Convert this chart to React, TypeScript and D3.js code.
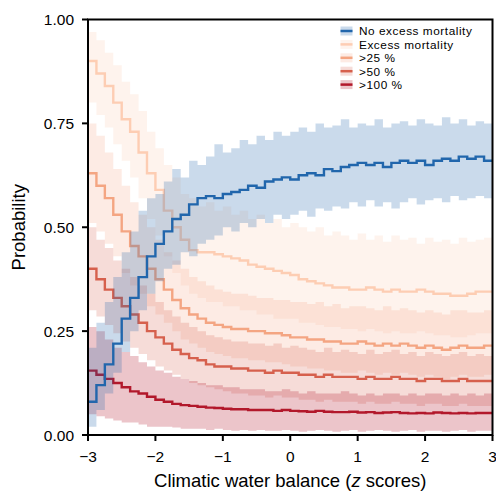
import React from "react";
import * as d3 from "d3";

// x bins (start of each bin), z scores from -3 to 3, width 0.125
const BIN_WIDTH = 0.125;
const BIN_STARTS = d3.range(-3, 3 - 1e-9, BIN_WIDTH);

const X_TICKS = [-3, -2, -1, 0, 1, 2, 3];
const Y_TICKS = [0, 0.25, 0.5, 0.75, 1];

const LABELS = ["No excess mortality", "Excess mortality", ">25 %", ">50 %", ">100 %"];

// No excess mortality
const noExcessMid = [0.08, 0.12, 0.17, 0.22, 0.28, 0.33, 0.38, 0.43, 0.46, 0.49, 0.52, 0.53, 0.555, 0.57, 0.575, 0.57, 0.58, 0.585, 0.59, 0.6, 0.595, 0.61, 0.615, 0.62, 0.615, 0.625, 0.63, 0.625, 0.64, 0.635, 0.645, 0.65, 0.655, 0.65, 0.655, 0.645, 0.655, 0.66, 0.655, 0.66, 0.65, 0.66, 0.665, 0.66, 0.67, 0.665, 0.67, 0.66];
const noExcessHi = [0.21, 0.27, 0.32, 0.38, 0.44, 0.49, 0.54, 0.57, 0.58, 0.61, 0.64, 0.62, 0.66, 0.65, 0.67, 0.7, 0.68, 0.69, 0.71, 0.7, 0.72, 0.71, 0.73, 0.72, 0.73, 0.74, 0.73, 0.75, 0.74, 0.745, 0.76, 0.74, 0.75, 0.745, 0.76, 0.74, 0.75, 0.755, 0.745, 0.76, 0.75, 0.745, 0.765, 0.75, 0.76, 0.745, 0.755, 0.75];
const noExcessLo = [0.02, 0.06, 0.1, 0.15, 0.2, 0.25, 0.3, 0.34, 0.37, 0.4, 0.41, 0.44, 0.43, 0.46, 0.47, 0.48, 0.5, 0.49, 0.51, 0.5, 0.52, 0.51, 0.53, 0.52, 0.53, 0.54, 0.525, 0.545, 0.54, 0.55, 0.545, 0.56, 0.55, 0.565, 0.55, 0.56, 0.545, 0.56, 0.57, 0.555, 0.565, 0.57, 0.56, 0.575, 0.565, 0.57, 0.575, 0.57];

// Excess mortality
const excessMid = [0.9, 0.87, 0.84, 0.8, 0.76, 0.73, 0.68, 0.63, 0.59, 0.54, 0.5, 0.47, 0.445, 0.44, 0.44, 0.435, 0.43, 0.425, 0.42, 0.41, 0.405, 0.4, 0.395, 0.39, 0.385, 0.375, 0.37, 0.365, 0.36, 0.355, 0.355, 0.35, 0.35, 0.355, 0.35, 0.345, 0.35, 0.345, 0.345, 0.35, 0.345, 0.34, 0.34, 0.335, 0.335, 0.34, 0.345, 0.345];
const excessHi = [0.97, 0.95, 0.92, 0.89, 0.85, 0.82, 0.78, 0.73, 0.69, 0.65, 0.62, 0.58, 0.57, 0.55, 0.56, 0.54, 0.55, 0.53, 0.54, 0.52, 0.53, 0.51, 0.52, 0.5, 0.51, 0.5, 0.49, 0.5, 0.48, 0.49, 0.48, 0.47, 0.485, 0.47, 0.48, 0.465, 0.48, 0.47, 0.475, 0.46, 0.475, 0.465, 0.47, 0.46, 0.475, 0.465, 0.47, 0.475];
const excessLo = [0.8, 0.77, 0.74, 0.7, 0.66, 0.62, 0.57, 0.52, 0.48, 0.43, 0.39, 0.36, 0.34, 0.33, 0.32, 0.32, 0.31, 0.31, 0.3, 0.3, 0.29, 0.29, 0.28, 0.28, 0.28, 0.27, 0.27, 0.265, 0.26, 0.26, 0.255, 0.255, 0.25, 0.255, 0.25, 0.245, 0.25, 0.245, 0.245, 0.25, 0.245, 0.24, 0.24, 0.235, 0.235, 0.24, 0.245, 0.245];

// >25 %
const over25Mid = [0.63, 0.6, 0.57, 0.53, 0.49, 0.455, 0.43, 0.4, 0.375, 0.35, 0.325, 0.305, 0.29, 0.28, 0.27, 0.265, 0.26, 0.255, 0.255, 0.25, 0.25, 0.245, 0.245, 0.24, 0.235, 0.235, 0.23, 0.23, 0.225, 0.225, 0.22, 0.22, 0.225, 0.22, 0.215, 0.22, 0.215, 0.22, 0.215, 0.21, 0.215, 0.21, 0.205, 0.21, 0.215, 0.21, 0.21, 0.215];
const over25Hi = [0.75, 0.72, 0.68, 0.64, 0.6, 0.56, 0.53, 0.5, 0.47, 0.44, 0.42, 0.4, 0.38, 0.37, 0.36, 0.35, 0.345, 0.34, 0.34, 0.335, 0.33, 0.33, 0.325, 0.325, 0.32, 0.32, 0.315, 0.32, 0.31, 0.315, 0.305, 0.31, 0.31, 0.305, 0.3, 0.31, 0.3, 0.305, 0.3, 0.295, 0.3, 0.295, 0.29, 0.3, 0.3, 0.295, 0.295, 0.3];
const over25Lo = [0.51, 0.49, 0.46, 0.43, 0.39, 0.36, 0.34, 0.31, 0.29, 0.27, 0.25, 0.23, 0.22, 0.21, 0.2, 0.195, 0.19, 0.185, 0.185, 0.18, 0.18, 0.175, 0.175, 0.17, 0.165, 0.165, 0.16, 0.16, 0.155, 0.155, 0.15, 0.15, 0.155, 0.15, 0.145, 0.15, 0.145, 0.15, 0.145, 0.14, 0.145, 0.14, 0.135, 0.14, 0.145, 0.14, 0.14, 0.145];

// >50 %
const over50Mid = [0.4, 0.375, 0.35, 0.33, 0.31, 0.29, 0.27, 0.25, 0.235, 0.22, 0.205, 0.195, 0.185, 0.18, 0.17, 0.165, 0.165, 0.16, 0.16, 0.155, 0.155, 0.15, 0.155, 0.15, 0.15, 0.145, 0.145, 0.14, 0.145, 0.14, 0.14, 0.14, 0.135, 0.14, 0.135, 0.135, 0.14, 0.135, 0.135, 0.13, 0.135, 0.135, 0.13, 0.13, 0.135, 0.13, 0.13, 0.13];
const over50Hi = [0.5, 0.47, 0.45, 0.42, 0.4, 0.38, 0.36, 0.34, 0.32, 0.3, 0.285, 0.27, 0.26, 0.25, 0.24, 0.235, 0.23, 0.225, 0.225, 0.22, 0.22, 0.215, 0.22, 0.21, 0.215, 0.21, 0.205, 0.2, 0.21, 0.2, 0.205, 0.2, 0.195, 0.205, 0.195, 0.2, 0.205, 0.195, 0.2, 0.19, 0.2, 0.195, 0.19, 0.195, 0.2, 0.19, 0.195, 0.19];
const over50Lo = [0.3, 0.285, 0.265, 0.245, 0.225, 0.21, 0.195, 0.18, 0.165, 0.155, 0.145, 0.135, 0.125, 0.12, 0.115, 0.11, 0.105, 0.1, 0.1, 0.095, 0.095, 0.09, 0.095, 0.09, 0.09, 0.085, 0.085, 0.08, 0.085, 0.08, 0.08, 0.08, 0.075, 0.08, 0.075, 0.075, 0.08, 0.075, 0.075, 0.07, 0.075, 0.075, 0.07, 0.07, 0.075, 0.07, 0.07, 0.07];

// >100 %
const over100Mid = [0.155, 0.145, 0.135, 0.125, 0.115, 0.105, 0.1, 0.092, 0.085, 0.08, 0.075, 0.072, 0.07, 0.068, 0.066, 0.065, 0.063, 0.062, 0.062, 0.06, 0.06, 0.06, 0.058, 0.06, 0.058, 0.057, 0.056, 0.058, 0.056, 0.055, 0.055, 0.056, 0.054, 0.055, 0.053, 0.054, 0.055, 0.053, 0.052, 0.053, 0.052, 0.054, 0.053, 0.052, 0.053, 0.052, 0.053, 0.053];
const over100Hi = [0.26, 0.25, 0.23, 0.21, 0.2, 0.19, 0.175, 0.165, 0.155, 0.15, 0.14, 0.135, 0.13, 0.125, 0.12, 0.12, 0.115, 0.115, 0.11, 0.11, 0.11, 0.105, 0.105, 0.11, 0.105, 0.1, 0.105, 0.1, 0.1, 0.1, 0.105, 0.1, 0.095, 0.1, 0.095, 0.1, 0.1, 0.095, 0.1, 0.095, 0.1, 0.1, 0.095, 0.1, 0.095, 0.1, 0.095, 0.1];
const over100Lo = [0.05, 0.045, 0.04, 0.035, 0.03, 0.03, 0.025, 0.02, 0.02, 0.02, 0.018, 0.015, 0.015, 0.015, 0.012, 0.015, 0.012, 0.01, 0.012, 0.01, 0.012, 0.01, 0.01, 0.012, 0.01, 0.008, 0.01, 0.012, 0.01, 0.008, 0.01, 0.012, 0.008, 0.01, 0.012, 0.01, 0.008, 0.01, 0.012, 0.008, 0.01, 0.01, 0.008, 0.01, 0.012, 0.008, 0.01, 0.01];

type Series = { label: string; mid: number[]; lo: number[]; hi: number[]; line: string; band: string; bandOpacity: number };

const SERIES: Series[] = [
  { label: LABELS[0], mid: noExcessMid, lo: noExcessLo, hi: noExcessHi, line: "#2166ac", band: "#2166ac", bandOpacity: 0.24 },
  { label: LABELS[1], mid: excessMid, lo: excessLo, hi: excessHi, line: "#fdcdb3", band: "#fbd0b9", bandOpacity: 0.25 },
  { label: LABELS[2], mid: over25Mid, lo: over25Lo, hi: over25Hi, line: "#f4a582", band: "#f4a582", bandOpacity: 0.22 },
  { label: LABELS[3], mid: over50Mid, lo: over50Lo, hi: over50Hi, line: "#d6604d", band: "#d6604d", bandOpacity: 0.22 },
  { label: LABELS[4], mid: over100Mid, lo: over100Lo, hi: over100Hi, line: "#b2182b", band: "#b2182b", bandOpacity: 0.25 },
];

const W = 496;
const H = 492;
const M = { left: 88, right: 3.5, top: 19.5, bottom: 57 };
const FONT = "'Liberation Sans', Arial, Helvetica, sans-serif";

export default function App() {
  const x = d3.scaleLinear().domain([-3, 3]).range([M.left, W - M.right]);
  const y = d3.scaleLinear().domain([0, 1]).range([H - M.bottom, M.top]);

  const pts = (vals: number[]) => {
    const p: [number, number][] = BIN_STARTS.map((s, i) => [s, vals[i]]);
    p.push([3, vals[vals.length - 1]]);
    return p;
  };
  const line = d3
    .line<[number, number]>()
    .x((d) => x(d[0]))
    .y((d) => y(d[1]))
    .curve(d3.curveStepAfter);
  const area = (lo: number[], hi: number[]) => {
    const rows = BIN_STARTS.map((s, i) => ({ s, lo: lo[i], hi: hi[i] }));
    rows.push({ s: 3, lo: lo[lo.length - 1], hi: hi[hi.length - 1] });
    return d3
      .area<{ s: number; lo: number; hi: number }>()
      .x((d) => x(d.s))
      .y0((d) => y(d.lo))
      .y1((d) => y(d.hi))
      .curve(d3.curveStepAfter)(rows);
  };

  const fmtY = d3.format(".2f");
  const fmtX = d3.format("d");
  const drawOrder = [1, 2, 3, 4, 0];

  return (
    <svg width={W} height={H} style={{ position: "absolute", left: 0, top: 0 }} fontFamily={FONT}>
      <defs>
        <clipPath id="plot">
          <rect x={M.left} y={M.top} width={W - M.right - M.left} height={H - M.bottom - M.top} />
        </clipPath>
      </defs>
      <rect width={W} height={H} fill="#fff" />
      <g clipPath="url(#plot)">
        {drawOrder.map((k) => {
          const s = SERIES[k];
          return (
            <g key={s.label}>
              <path d={area(s.lo, s.hi) || ""} fill={s.band} fillOpacity={s.bandOpacity} stroke="none" />
              <path d={line(pts(s.mid)) || ""} fill="none" stroke={s.line} strokeWidth={2.4} strokeLinejoin="miter" />
            </g>
          );
        })}
      </g>
      {/* frame */}
      <rect
        x={M.left}
        y={M.top}
        width={W - M.right - M.left}
        height={H - M.bottom - M.top}
        fill="none"
        stroke="#000"
        strokeWidth={2}
      />
      {/* x axis ticks */}
      {X_TICKS.map((t) => (
        <g key={"x" + t}>
          <line x1={x(t)} x2={x(t)} y1={y(0)} y2={y(0) + 6} stroke="#000" strokeWidth={2} />
          <text x={x(t)} y={462} textAnchor="middle" fontSize={15.5} fill="#000">
            {t < 0 ? "\u2212" + fmtX(-t) : fmtX(t)}
          </text>
        </g>
      ))}
      {Y_TICKS.map((t) => (
        <g key={"y" + t}>
          <line x1={M.left - 6} x2={M.left} y1={y(t)} y2={y(t)} stroke="#000" strokeWidth={2} />
          <text x={74} y={y(t) + 5.5} textAnchor="end" fontSize={15.5} fill="#000">
            {fmtY(t)}
          </text>
        </g>
      ))}
      <text x={(M.left + W - M.right) / 2} y={487} textAnchor="middle" fontSize={18.5} fill="#000">
        Climatic water balance (<tspan fontStyle="italic">z</tspan> scores)
      </text>
      <text
        transform={`translate(25,${(M.top + H - M.bottom) / 2}) rotate(-90)`}
        textAnchor="middle"
        fontSize={18.5}
        fill="#000"
      >
        Probability
      </text>
      {/* legend */}
      {SERIES.map((s, i) => {
        const cy = 31 + i * 13.4;
        return (
          <g key={"lg" + s.label}>
            <rect x={340.5} y={cy - 4.5} width={12} height={9} fill={s.band} fillOpacity={s.bandOpacity} />
            <line x1={340.5} x2={352.5} y1={cy} y2={cy} stroke={s.line} strokeWidth={2.5} />
            <text x={359} y={cy + 4.3} fontSize={11.8} letterSpacing={0.55} fill="#000">
              {s.label}
            </text>
          </g>
        );
      })}
    </svg>
  );
}
